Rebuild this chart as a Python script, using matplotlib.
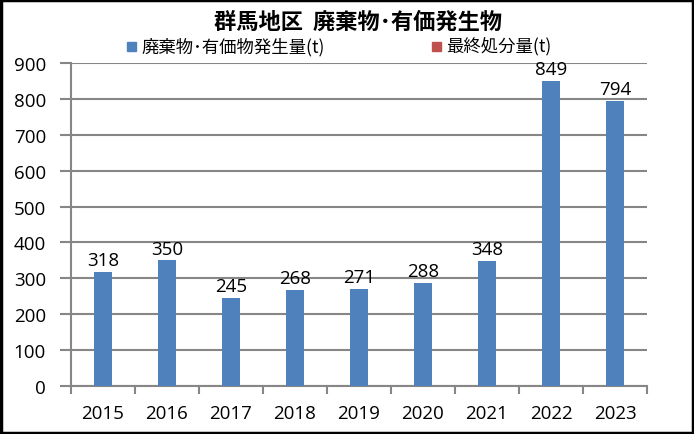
import matplotlib.pyplot as plt
from matplotlib.patches import Rectangle

plt.rcParams['font.family'] = ['Noto Sans CJK JP', 'DejaVu Sans']

years = ['2015', '2016', '2017', '2018', '2019', '2020', '2021', '2022', '2023']
waste = [318, 350, 245, 268, 271, 288, 348, 849, 794]
final = [0, 0, 0, 0, 0, 0, 0, 0, 0]

blue = '#4f81bd'
red = '#c0504d'
grid = '#868686'
num_font = ['Open Sans', 'DejaVu Sans']

fig = plt.figure(figsize=(6.94, 4.35), dpi=100)
ax = fig.add_axes([71 / 694, 1 - 387 / 435, 576 / 694, 323 / 435])

x = list(range(len(years)))
ax.bar(x, waste, width=0.27, color=blue, zorder=3)
ax.bar(x, final, width=0.27, color=red, zorder=3)

for xi, v in zip(x, waste):
    ax.text(xi, v + 8, str(v), ha='center', va='bottom', fontsize=13.5, family=num_font)

ax.set_xlim(-0.5, len(years) - 0.5)
ax.set_ylim(0, 900)
ax.set_yticks(range(0, 901, 100))
ax.set_xticks([i - 0.5 for i in range(len(years) + 1)], minor=False)
ax.set_xticklabels([])
ax.set_xticks(x, minor=True)
ax.set_xticklabels(years, minor=True, fontsize=13.5, family=num_font)
ax.tick_params(axis='x', which='minor', length=0, pad=13)
ax.tick_params(axis='x', which='major', length=6, width=1.5, color=grid)
ax.tick_params(axis='y', length=8, width=1.5, color=grid, pad=10)
for lab in ax.get_yticklabels():
    lab.set_fontsize(13.5)
    lab.set_family(num_font)

ax.grid(axis='y', color=grid, linewidth=1.5, zorder=0)
for s in ['top', 'right']:
    ax.spines[s].set_visible(False)
ax.spines['left'].set_color(grid)
ax.spines['left'].set_linewidth(1.5)
ax.spines['bottom'].set_color(grid)
ax.spines['bottom'].set_linewidth(1.5)

fig.text(358 / 694, 1 - 22 / 435, '群馬地区  廃棄物･有価発生物', ha='center', va='center',
         fontsize=16, fontweight='bold')

# legend
fig.patches.append(Rectangle((127 / 694, 1 - 52 / 435), 9 / 694, 9 / 435,
                             transform=fig.transFigure, color=blue))
fig.text(141 / 694, 1 - 47 / 435, '廃棄物･有価物発生量(t)', ha='left', va='center', fontsize=12.5)
fig.patches.append(Rectangle((432 / 694, 1 - 52 / 435), 9 / 694, 9 / 435,
                             transform=fig.transFigure, color=red))
fig.text(446 / 694, 1 - 47 / 435, '最終処分量(t)', ha='left', va='center', fontsize=12.5)

fig.patches.append(Rectangle((0.002, 0.003), 0.996, 0.994, transform=fig.transFigure,
                             fill=False, edgecolor='black', linewidth=2.5))

fig.savefig('out.png', dpi=100)
